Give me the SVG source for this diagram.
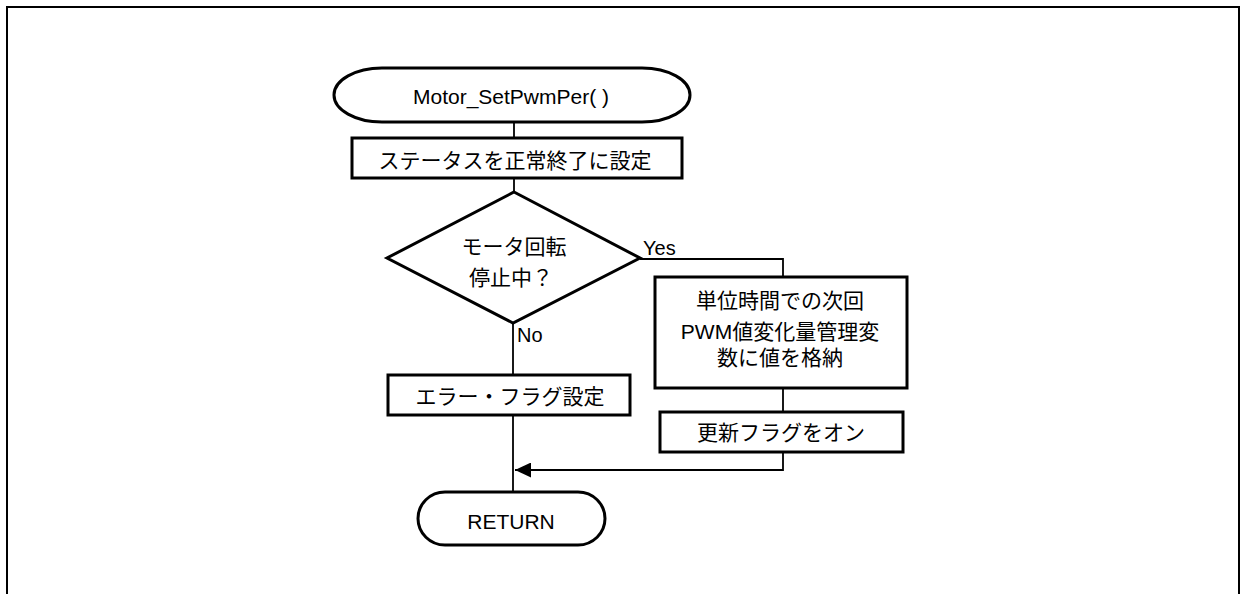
<svg xmlns="http://www.w3.org/2000/svg" width="1240" height="594" viewBox="0 0 1240 594">
<style>
.box{fill:#fff;stroke:#000;stroke-width:3}
.ln{fill:none;stroke:#000;stroke-width:1.8}
.t{font-family:"Liberation Sans","Noto Sans CJK JP",sans-serif;font-size:21px;fill:#000;text-anchor:middle}
.l{font-family:"Liberation Sans","Noto Sans CJK JP",sans-serif;font-size:20px;fill:#000}
</style>
<defs>
<marker id="ah" markerWidth="16" markerHeight="15" refX="16" refY="7.5" orient="auto" markerUnits="userSpaceOnUse">
<path d="M0,0 L16,7.5 L0,15 Z" fill="#000"/>
</marker>
</defs>
<rect width="1240" height="594" fill="#fff"/>
<polyline points="7,594 7,7 1239,7 1239,594" fill="none" stroke="#000" stroke-width="2"/>
<g id="connectors">
<line class="ln" x1="514" y1="122" x2="514" y2="138"/>
<line class="ln" x1="514" y1="178" x2="514" y2="192"/>
<polyline class="ln" points="640,259 783,259 783,277"/>
<line class="ln" x1="783" y1="388" x2="783" y2="412"/>
<polyline class="ln" points="783,452 783,470 515,470" marker-end="url(#ah)"/>
<line class="ln" x1="513" y1="323" x2="513" y2="375"/>
<line class="ln" x1="513" y1="415" x2="513" y2="492"/>
<text class="l" x="643" y="255">Yes</text>
<text class="l" x="517" y="342">No</text>
</g>
<g id="start">
<rect class="box" x="334" y="68" width="356" height="54" rx="48" ry="27"/>
<text class="t" x="511" y="104">Motor_SetPwmPer( )</text>
</g>
<g id="setStatus">
<rect class="box" x="352" y="138" width="330" height="40"/>
<text class="t" x="515" y="168">ステータスを正常終了に設定</text>
</g>
<g id="decision">
<polygon class="box" points="514,192 640,258 513,323 387,258"/>
<text class="t" x="514" y="254">モータ回転</text>
<text class="t" x="511" y="285">停止中？</text>
</g>
<g id="storeValue">
<rect class="box" x="655" y="277" width="252" height="111"/>
<text class="t" x="780" y="308">単位時間での次回</text>
<text class="t" x="780" y="339">PWM値変化量管理変</text>
<text class="t" x="780" y="365">数に値を格納</text>
</g>
<g id="updateFlag">
<rect class="box" x="660" y="412" width="243" height="40"/>
<text class="t" x="781" y="440">更新フラグをオン</text>
</g>
<g id="errorFlag">
<rect class="box" x="388" y="375" width="242" height="40"/>
<text class="t" x="510" y="404">エラー・フラグ設定</text>
</g>
<g id="return">
<rect class="box" x="418" y="492" width="187" height="53" rx="27" ry="26.5"/>
<text class="t" x="511" y="529">RETURN</text>
</g>
</svg>
